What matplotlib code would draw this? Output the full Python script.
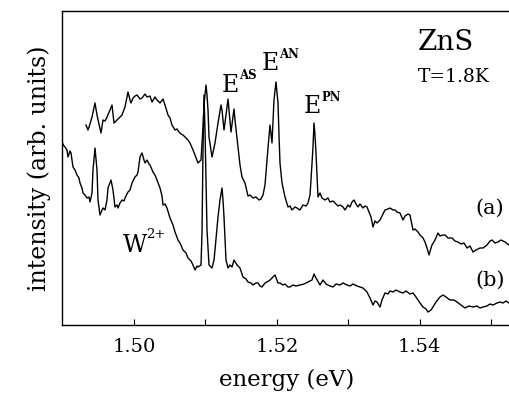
'''
Fun: photoluminescence spectra of ZnS at 1.8 K
'''

import matplotlib
matplotlib.use('Agg')
import matplotlib.pyplot as plt

## spectrum (a), energy in eV and intensity in arb. units
energy_a = [1.49328, 1.49356, 1.49384, 1.49412, 1.49454, 1.49482, 1.49510, 1.49538, 1.49566, 1.49594,
	1.49622, 1.49664, 1.49692, 1.49720, 1.49762, 1.49804, 1.49832, 1.49874, 1.49916, 1.49944,
	1.49958, 1.49986, 1.50014, 1.50042, 1.50084, 1.50112, 1.50154, 1.50182, 1.50224, 1.50252,
	1.50294, 1.50322, 1.50364, 1.50406, 1.50434, 1.50476, 1.50504, 1.50532, 1.50574, 1.50602,
	1.50630, 1.50658, 1.50686, 1.50728, 1.50756, 1.50784, 1.50826, 1.50854, 1.50896, 1.50938,
	1.50966, 1.50980, 1.51008, 1.51022, 1.51036, 1.51050, 1.51092, 1.51134, 1.51176, 1.51218,
	1.51232, 1.51260, 1.51288, 1.51316, 1.51330, 1.51358, 1.51400, 1.51414, 1.51442, 1.51484,
	1.51512, 1.51554, 1.51596, 1.51624, 1.51666, 1.51708, 1.51750, 1.51778, 1.51806, 1.51834,
	1.51862, 1.51876, 1.51904, 1.51932, 1.51960, 1.51988, 1.52016, 1.52030, 1.52044, 1.52072,
	1.52114, 1.52156, 1.52184, 1.52212, 1.52254, 1.52282, 1.52324, 1.52366, 1.52408, 1.52436,
	1.52464, 1.52478, 1.52506, 1.52520, 1.52534, 1.52548, 1.52576, 1.52604, 1.52632, 1.52674,
	1.52716, 1.52744, 1.52786, 1.52814, 1.52856, 1.52884, 1.52926, 1.52954, 1.52996, 1.53024,
	1.53052, 1.53080, 1.53108, 1.53136, 1.53164, 1.53206, 1.53234, 1.53262, 1.53290, 1.53318,
	1.53346, 1.53374, 1.53402, 1.53444, 1.53486, 1.53514, 1.53556, 1.53584, 1.53626, 1.53654,
	1.53682, 1.53724, 1.53766, 1.53794, 1.53836, 1.53864, 1.53906, 1.53934, 1.53976, 1.54004,
	1.54046, 1.54074, 1.54102, 1.54130, 1.54158, 1.54172, 1.54214, 1.54256, 1.54284, 1.54326,
	1.54354, 1.54396, 1.54452, 1.54494, 1.54536, 1.54578, 1.54620, 1.54662, 1.54704, 1.54746,
	1.54788, 1.54844, 1.54886, 1.54942, 1.54984, 1.55012, 1.55054, 1.55096, 1.55138, 1.55194,
	1.55250]
intensity_a = [200, 195, 201, 208, 222, 210, 201, 192, 205, 204,
	208, 215, 220, 202, 205, 208, 210, 218, 233, 225,
	222, 227, 229, 230, 226, 227, 231, 228, 229, 223,
	228, 225, 222, 226, 220, 210, 207, 200, 195, 196,
	193, 191, 190, 187, 185, 182, 175, 170, 162, 165,
	198, 220, 240, 230, 215, 188, 168, 182, 202, 220,
	215, 195, 210, 226, 215, 193, 216, 205, 187, 160,
	148, 142, 129, 130, 127, 128, 125, 126, 130, 140,
	165, 177, 200, 182, 225, 243, 222, 190, 162, 142,
	128, 118, 119, 115, 118, 117, 115, 120, 119, 122,
	130, 145, 178, 202, 190, 172, 128, 132, 127, 125,
	127, 123, 124, 122, 119, 120, 118, 115, 120, 118,
	123, 125, 121, 118, 121, 117, 119, 118, 113, 108,
	98, 104, 102, 105, 111, 115, 116, 117, 115, 115,
	113, 112, 105, 109, 111, 110, 95, 96, 93, 90,
	87, 83, 77, 70, 77, 80, 85, 92, 89, 90,
	90, 87, 87, 84, 83, 81, 82, 77, 79, 73,
	75, 77, 77, 80, 84, 85, 82, 83, 85, 83,
	80]

## spectrum (b)
energy_b = [1.48992, 1.49020, 1.49034, 1.49062, 1.49076, 1.49104, 1.49118, 1.49146, 1.49174, 1.49202,
	1.49230, 1.49244, 1.49272, 1.49286, 1.49314, 1.49342, 1.49370, 1.49384, 1.49412, 1.49426,
	1.49454, 1.49482, 1.49496, 1.49524, 1.49552, 1.49566, 1.49594, 1.49622, 1.49636, 1.49678,
	1.49706, 1.49734, 1.49762, 1.49776, 1.49804, 1.49832, 1.49860, 1.49874, 1.49916, 1.49944,
	1.49972, 1.50014, 1.50042, 1.50056, 1.50084, 1.50112, 1.50140, 1.50154, 1.50182, 1.50210,
	1.50224, 1.50266, 1.50294, 1.50322, 1.50364, 1.50392, 1.50406, 1.50434, 1.50462, 1.50504,
	1.50546, 1.50574, 1.50616, 1.50644, 1.50686, 1.50728, 1.50756, 1.50798, 1.50826, 1.50854,
	1.50882, 1.50896, 1.50938, 1.50952, 1.50966, 1.50980, 1.50994, 1.51008, 1.51022, 1.51050,
	1.51092, 1.51120, 1.51134, 1.51176, 1.51204, 1.51232, 1.51246, 1.51260, 1.51288, 1.51316,
	1.51344, 1.51372, 1.51400, 1.51442, 1.51484, 1.51526, 1.51568, 1.51596, 1.51638, 1.51666,
	1.51708, 1.51736, 1.51764, 1.51792, 1.51834, 1.51862, 1.51904, 1.51932, 1.51974, 1.52016,
	1.52044, 1.52086, 1.52114, 1.52156, 1.52184, 1.52226, 1.52268, 1.52324, 1.52380, 1.52436,
	1.52492, 1.52520, 1.52548, 1.52604, 1.52646, 1.52688, 1.52744, 1.52786, 1.52828, 1.52884,
	1.52926, 1.52982, 1.53024, 1.53066, 1.53122, 1.53164, 1.53206, 1.53234, 1.53262, 1.53304,
	1.53346, 1.53374, 1.53402, 1.53444, 1.53472, 1.53514, 1.53556, 1.53584, 1.53626, 1.53668,
	1.53724, 1.53766, 1.53808, 1.53864, 1.53906, 1.53948, 1.53976, 1.54004, 1.54046, 1.54088,
	1.54116, 1.54158, 1.54186, 1.54228, 1.54284, 1.54326, 1.54368, 1.54424, 1.54480, 1.54522,
	1.54578, 1.54634, 1.54690, 1.54746, 1.54802, 1.54844, 1.54886, 1.54942, 1.54984, 1.55026,
	1.55082, 1.55124, 1.55166, 1.55208, 1.55250]
intensity_b = [183, 179, 178, 175, 168, 174, 172, 158, 155, 150,
	147, 142, 137, 132, 130, 127, 128, 123, 132, 155,
	177, 155, 125, 110, 115, 117, 115, 125, 137, 145,
	135, 118, 120, 117, 122, 125, 124, 127, 133, 135,
	142, 148, 150, 153, 168, 172, 165, 162, 165, 161,
	160, 153, 150, 145, 137, 129, 120, 121, 117, 107,
	100, 93, 85, 82, 75, 72, 67, 64, 60, 55,
	59, 58, 60, 92, 175, 230, 195, 145, 95, 60,
	57, 65, 75, 108, 125, 137, 125, 108, 65, 57,
	60, 58, 65, 60, 57, 48, 46, 43, 42, 40,
	42, 42, 39, 38, 42, 43, 45, 47, 50, 42,
	42, 40, 41, 38, 38, 40, 39, 40, 41, 43,
	45, 51, 47, 40, 45, 41, 39, 38, 41, 40,
	42, 40, 39, 41, 39, 38, 37, 35, 33, 27,
	20, 24, 23, 18, 25, 32, 31, 34, 33, 35,
	33, 32, 34, 31, 32, 28, 25, 22, 18, 16,
	13, 15, 18, 23, 28, 30, 28, 25, 25, 23,
	20, 17, 19, 18, 19, 17, 18, 19, 21, 20,
	22, 23, 22, 24, 22]

## axis ticks
major_ticks = [1.50, 1.52, 1.54]
minor_ticks = [1.51, 1.53, 1.55]
tick_labels = ['1.50', '1.52', '1.54']


def plot_figure():
	plt.rcParams['font.family'] = 'DejaVu Serif'
	fig = plt.figure(figsize=(5.1, 4.0), dpi=100)
	ax = fig.add_axes([62/510, 75/400, 450/510, 314/400])

	ax.plot(energy_a, intensity_a, color='black', lw=1.0)
	ax.plot(energy_b, intensity_b, color='black', lw=1.0)

	ax.set_xlim(1.48992, 1.55292)
	ax.set_ylim(0, 314)
	ax.set_xticks(major_ticks)
	ax.set_xticklabels(tick_labels)
	ax.set_xticks(minor_ticks, minor=True)
	ax.tick_params(axis='x', which='both', direction='in', length=4, width=0.8,
		labelsize=14, pad=9)
	ax.set_yticks([])
	ax.spines['right'].set_visible(False)
	for s in ['left', 'top', 'bottom']:
		ax.spines[s].set_linewidth(1.0)

	ax.set_xlabel('energy (eV)', fontsize=16.5, labelpad=10)
	ax.set_ylabel('intensity (arb. units)', fontsize=17, labelpad=8)

	# labels
	ax.text(1.53976, 275, 'ZnS', fontsize=20)
	ax.text(1.53976, 243, 'T=1.8K', fontsize=13.5)
	ax.text(1.54774, 117, '(a)', fontsize=15, va='center')
	ax.text(1.54774, 45, '(b)', fontsize=15, va='center')

	ax.text(1.51232, 233, 'E', fontsize=17)
	ax.text(1.51470, 246, 'AS', fontsize=8.5, fontweight='bold')
	ax.text(1.51792, 255, 'E', fontsize=17)
	ax.text(1.52030, 267, 'AN', fontsize=8.5, fontweight='bold')
	ax.text(1.52380, 212, 'E', fontsize=17)
	ax.text(1.52618, 224, 'PN', fontsize=8.5, fontweight='bold')
	ax.text(1.49846, 73, 'W', fontsize=17)
	ax.text(1.50165, 87, '2+', fontsize=9.5)

	fig.savefig('out.png', dpi=100)


## main function
if __name__ == '__main__':
	plot_figure()
